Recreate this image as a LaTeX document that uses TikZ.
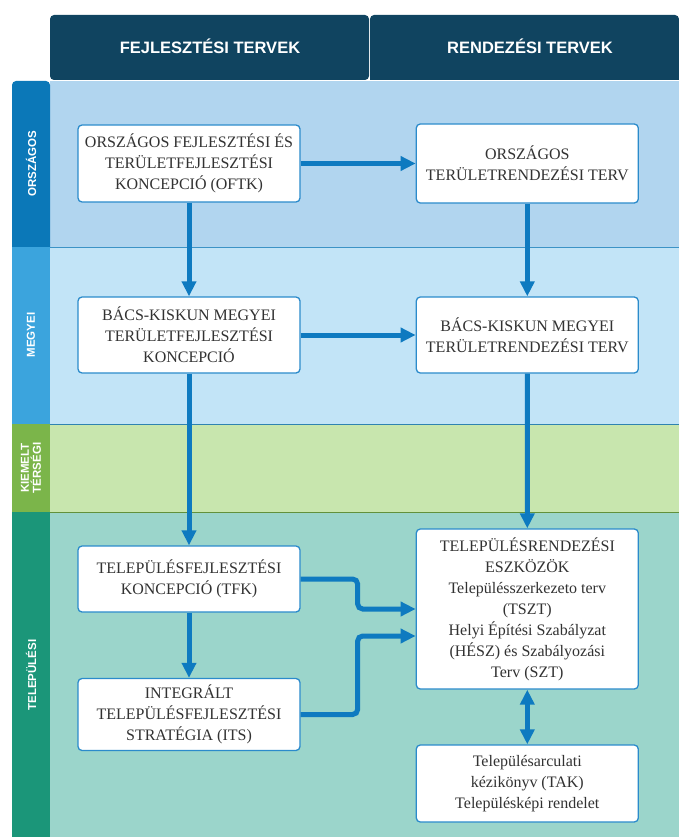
\documentclass[tikz,border=0pt]{standalone}
\usepackage{fontspec}
\setmainfont{Liberation Serif}
\newfontfamily\hdrfont{Liberation Sans}
\usetikzlibrary{arrows.meta}
\usetikzlibrary{positioning}

\definecolor{hdrblue}{RGB}{16,68,96}
\definecolor{orszside}{RGB}{11,120,184}
\definecolor{orszband}{RGB}{177,213,239}
\definecolor{megyside}{RGB}{59,164,221}
\definecolor{megyband}{RGB}{194,228,247}
\definecolor{kiemside}{RGB}{123,181,74}
\definecolor{kiemband}{RGB}{200,230,174}
\definecolor{telside}{RGB}{27,150,121}
\definecolor{telband}{RGB}{155,213,203}
\definecolor{arrowblue}{RGB}{14,122,192}
\definecolor{boxline}{RGB}{43,139,203}
\definecolor{boxtext}{RGB}{50,50,50}

\begin{document}
\begin{tikzpicture}[x=1pt, y=-1pt,
  plan/.style    = {draw=boxline, line width=1.3pt, rounded corners=4pt, fill=white, text=boxtext, align=center, minimum width=222pt, inner sep=2pt, font=\fontsize{16}{21}\selectfont},
  colhead/.style = {text=white, font=\hdrfont\bfseries\fontsize{16.5}{20}\selectfont},
  rowhead/.style = {text=white, rotate=90, align=center, font=\hdrfont\bfseries\fontsize{11.5}{12}\selectfont},
  flow/.style    = {draw=arrowblue, line width=5pt, -{Triangle[length=15pt,width=14pt]}},
  flowboth/.style= {flow, {Triangle[length=15pt,width=14pt]}-{Triangle[length=15pt,width=14pt]}},
  node distance  = 115pt
]
  \useasboundingbox (0,0) rectangle (679,837);

  \fill[hdrblue, rounded corners=4pt] (50,80) |- (369,15) -- (369,80) -- cycle;
  \fill[hdrblue, rounded corners=4pt] (370,80) |- (679,15) [sharp corners] -- (679,80) -- cycle;

  \fill[orszband] (50,81) rectangle (679,247);
  \fill[megyband] (50,247) rectangle (679,424);
  \fill[kiemband] (50,424) rectangle (679,512);
  \fill[telband]  (50,512) rectangle (679,837);
  \draw[orszside!80, line width=0.8pt] (50,247) -- (679,247);
  \draw[megyside!80!black, line width=0.8pt] (50,424) -- (679,424);
  \draw[kiemside!80!black, line width=0.8pt] (50,512) -- (679,512);

  \fill[orszside, rounded corners=4pt] (12,247) |- (50,81) [sharp corners] -- (50,247) -- cycle;
  \fill[megyside] (12,247) rectangle (50,424);
  \fill[kiemside] (12,424) rectangle (50,512);
  \fill[telside]  (12,512) rectangle (50,837);

  \node[colhead] (fejl) at (210,46) {FEJLESZTÉSI TERVEK};
  \node[colhead] (rend) at (530,46) {RENDEZÉSI TERVEK};

  \node[rowhead] (orsz) at (31,164) {ORSZÁGOS};
  \node[rowhead] (megy) at (31,335) {MEGYEI};
  \node[rowhead] (kiem) at (31,468) {KIEMELT\\TÉRSÉGI};
  \node[rowhead] (tel)  at (31,675) {TELEPÜLÉSI};

  \node[plan, minimum height=77pt] (oftk) at (189,163.5) {ORSZÁGOS FEJLESZTÉSI ÉS\\TERÜLETFEJLESZTÉSI\\KONCEPCIÓ (OFTK)};
  \node[plan, minimum height=79pt, right=of oftk] (otrt) {ORSZÁGOS\\TERÜLETRENDEZÉSI TERV};
  \node[plan, minimum height=76pt] (mtfk) at (189,335) {BÁCS-KISKUN MEGYEI\\TERÜLETFEJLESZTÉSI\\KONCEPCIÓ};
  \node[plan, minimum height=76pt, right=of mtfk] (mtrt) {BÁCS-KISKUN MEGYEI\\TERÜLETRENDEZÉSI TERV};
  \node[plan, minimum height=66pt] (tfk) at (189,579) {TELEPÜLÉSFEJLESZTÉSI\\KONCEPCIÓ (TFK)};
  \node[plan, minimum height=72pt] (its) at (189,714.5) {INTEGRÁLT\\TELEPÜLÉSFEJLESZTÉSI\\STRATÉGIA (ITS)};
  \node[plan, minimum height=160pt] (tre) at (527.3,609) {TELEPÜLÉSRENDEZÉSI\\ESZKÖZÖK\\Településszerkezeto terv\\(TSZT)\\Helyi Építési Szabályzat\\(HÉSZ) és Szabályozási\\Terv (SZT)};
  \node[plan, minimum height=77pt] (tak) at (527.3,783.5) {Településarculati\\kézikönyv (TAK)\\Településképi rendelet};

  \draw[flow] (oftk) -- (otrt);
  \draw[flow] (oftk) -- (mtfk);
  \draw[flow] (otrt) -- (mtrt);
  \draw[flow] (mtfk) -- (mtrt);
  \draw[flow] (mtfk) -- (tfk);
  \draw[flow] (mtrt) -- (tre);
  \draw[flow] (tfk)  -- (its);
  \draw[flow, rounded corners=5pt] (tfk.east) -- ++(57,0) |- (tre.west);
  \draw[flow, rounded corners=5pt] (its.east) -- ++(57,0) |- ([yshift=-27pt]tre.west);
  \draw[flowboth] (tre) -- (tak);
\end{tikzpicture}
\end{document}
